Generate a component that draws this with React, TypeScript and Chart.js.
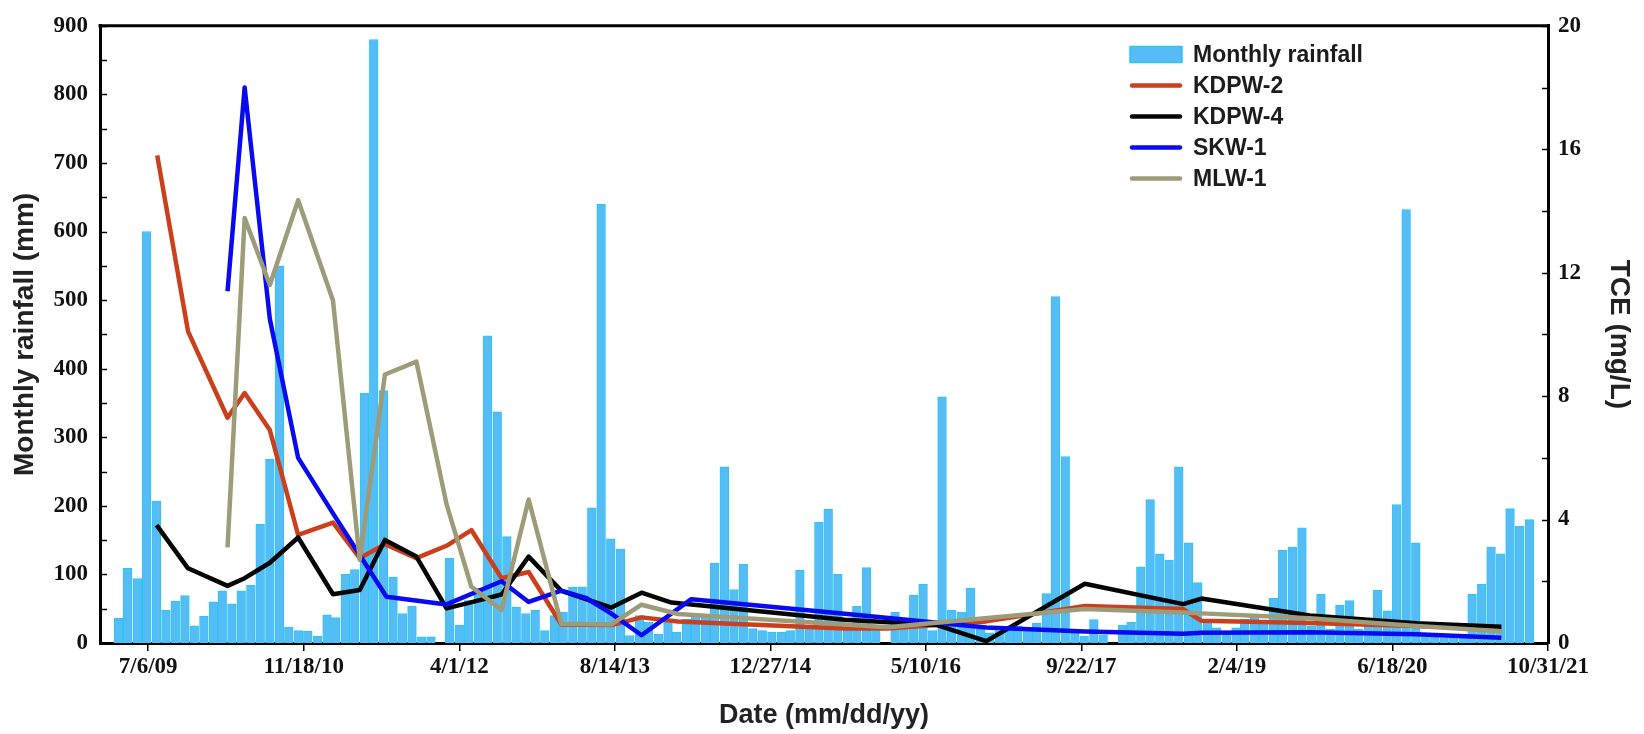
import { useEffect, useRef } from 'react';
import { Chart, registerables } from 'chart.js';

Chart.register(...registerables);

// ---------- DATA ----------
// Monthly rainfall (mm), one value per month starting April 2009 (through Sep 2021)
const rainStartYear = 2009;
const rainStartMonth = 4;
const rainfall = [
  // 2009 Apr-Dec
  36, 109, 94, 600, 207, 48, 61, 69, 25,
  // 2010
  39, 60, 76, 57, 76, 84, 173, 268, 550, 23, 18, 17,
  // 2011
  10, 41, 37, 100, 107, 364, 880, 368, 96, 43, 54, 9,
  // 2012
  9, 0, 124, 26, 62, 80, 448, 337, 155, 52, 43, 48,
  // 2013
  18, 40, 45, 81, 82, 197, 640, 152, 137, 11, 40, 30,
  // 2014
  13, 33, 16, 35, 40, 38, 116, 257, 78, 115, 21, 18,
  // 2015
  16, 16, 18, 106, 22, 176, 195, 100, 22, 54, 110, 18,
  // 2016
  0, 45, 25, 70, 86, 18, 359, 48, 45, 80, 20, 15,
  // 2017
  18, 22, 25, 20, 29, 72, 505, 272, 15, 10, 34, 12,
  // 2018
  0, 26, 30, 111, 209, 130, 121, 257, 146, 88, 30, 22,
  // 2019
  15, 22, 35, 42, 30, 65, 135, 140, 168, 25, 71, 20,
  // 2020
  55, 62, 20, 25, 77, 47, 202, 632, 146, 12, 10, 8,
  // 2021 Jan-Sep
  10, 12, 71, 86, 140, 130, 196, 170, 180,
];

// TCE (mg/L) sampling dates and values
const kdpw2Dates = [
  '2009-08-04', '2009-11-11', '2010-03-18', '2010-05-12', '2010-08-01', '2010-10-31',
  '2011-02-20', '2011-05-17', '2011-08-06', '2011-11-15', '2012-02-20', '2012-05-10',
  '2012-08-15', '2012-11-10', '2013-02-23', '2013-08-03', '2013-11-08', '2014-03-05',
  '2015-08-23', '2016-01-08', '2016-11-20', '2017-10-03', '2018-08-15', '2018-10-13',
  '2019-09-26', '2020-09-03', '2021-06-03',
];
const kdpw2 = [
  15.8, 10.1, 7.3, 8.1, 6.9, 3.5,
  3.9, 2.75, 3.2, 2.75, 3.15, 3.66,
  2.1, 2.3, 0.6, 0.58, 0.83, 0.7,
  0.47, 0.47, 0.7, 1.2, 1.1, 0.72,
  0.65, 0.55, 0.45,
];

const kdpw4Dates = [
  '2009-08-02', '2009-11-11', '2010-03-18', '2010-05-12', '2010-08-01', '2010-10-31',
  '2011-02-20', '2011-05-17', '2011-08-06', '2011-11-15', '2012-02-20', '2012-05-21',
  '2012-08-15', '2012-11-10', '2013-02-23', '2013-08-03', '2013-11-08', '2014-02-12',
  '2015-08-23', '2016-06-15', '2016-11-20', '2017-10-03', '2018-08-15', '2018-10-13',
  '2019-09-26', '2020-09-03', '2021-06-03',
];
const kdpw4 = [
  3.82, 2.42, 1.85, 2.1, 2.6, 3.42,
  1.58, 1.72, 3.34, 2.8, 1.12, 1.35,
  1.57, 2.8, 1.69, 1.15, 1.63, 1.31,
  0.75, 0.58, 0.06, 1.92, 1.26, 1.44,
  0.89, 0.64, 0.53,
];

const skw1Dates = [
  '2010-03-18', '2010-05-12', '2010-08-01', '2010-10-31', '2011-02-20', '2011-08-11',
  '2012-02-20', '2012-08-15', '2012-11-10', '2013-02-23', '2013-05-15', '2013-08-03',
  '2013-11-08', '2014-04-17', '2015-08-23', '2016-11-20', '2017-10-03', '2018-08-15',
  '2018-10-13', '2019-09-26', '2020-09-03', '2021-06-03',
];
const skw1 = [
  11.4, 18.0, 10.5, 6.0, 4.2, 1.5,
  1.25, 2.0, 1.33, 1.7, 1.45, 0.95,
  0.25, 1.42, 0.95, 0.5, 0.37, 0.3,
  0.33, 0.35, 0.28, 0.17,
];

const mlw1Dates = [
  '2010-03-18', '2010-05-12', '2010-08-01', '2010-10-31', '2011-02-20', '2011-05-17',
  '2011-08-06', '2011-11-15', '2012-02-20', '2012-05-10', '2012-08-15', '2012-11-10',
  '2013-02-23', '2013-08-03', '2013-11-08', '2014-03-05', '2015-08-23', '2016-01-08',
  '2017-10-03', '2018-08-15', '2018-10-13', '2019-09-26', '2020-09-03', '2021-06-03',
];
const mlw1 = [
  3.1, 13.77, 11.6, 14.35, 11.1, 2.7,
  8.7, 9.12, 4.5, 1.82, 1.07, 4.65,
  0.62, 0.6, 1.24, 0.94, 0.6, 0.51,
  1.1, 0.99, 0.96, 0.8, 0.55, 0.38,
];

// x-axis range and tick labels
const xMinDate = '2009-02-01';
const xMaxDate = '2021-10-31';
const tickDates = [
  '2009-07-06', '2010-11-18', '2012-04-01', '2013-08-14', '2014-12-27',
  '2016-05-10', '2017-09-22', '2019-02-04', '2020-06-18', '2021-10-31',
];
const tickLabels = [
  '7/6/09', '11/18/10', '4/1/12', '8/14/13', '12/27/14',
  '5/10/16', '9/22/17', '2/4/19', '6/18/20', '10/31/21',
];

// ---------- HELPERS ----------
const day = (s: string) => {
  const [y, m, d] = s.split('-').map(Number);
  return Date.UTC(y, m - 1, d) / 86400000;
};
const monthDay = (i: number) => Date.UTC(rainStartYear, rainStartMonth - 1 + i, 1) / 86400000;
const pts = (dates: string[], vals: number[]) => dates.map((d, i) => ({ x: day(d), y: vals[i] }));

const BAR_FILL = '#56bcf5';
const BAR_EDGE = '#2ac6f2';
const tickFont = { family: '"Liberation Serif", "Times New Roman", serif', size: 23, weight: 'bold' as const };
const titleFont = { family: '"Liberation Sans", Arial, sans-serif', size: 28, weight: 'bold' as const };

const framePlugin = {
  id: 'frameAndLegend',
  afterDraw(chart: any) {
    const { ctx, chartArea: a, scales } = chart;
    ctx.save();
    ctx.strokeStyle = '#000';
    ctx.lineWidth = 3;
    ctx.beginPath();
    ctx.moveTo(a.left - 1.5, a.top);
    ctx.lineTo(a.right + 1.5, a.top);
    ctx.stroke();

    // inward tick marks on both y axes
    ctx.lineWidth = 1.5;
    const yl = scales.y;
    for (let v = yl.min; v <= yl.max; v += 50) {
      const p = Math.round(yl.getPixelForValue(v)) + 0.5;
      ctx.beginPath();
      ctx.moveTo(a.left, p);
      ctx.lineTo(a.left + 7, p);
      ctx.stroke();
    }
    const yr = scales.y1;
    for (let v = yr.min; v <= yr.max; v += 2) {
      const p = Math.round(yr.getPixelForValue(v)) + 0.5;
      ctx.beginPath();
      ctx.moveTo(a.right, p);
      ctx.lineTo(a.right - 6, p);
      ctx.stroke();
    }

    // legend
    const lx = a.right - 418;
    const ly = a.top + 28.7;
    const gap = 31;
    ctx.font = 'bold 23px "Liberation Sans", Arial, sans-serif';
    ctx.textBaseline = 'middle';
    ctx.textAlign = 'left';
    chart.data.datasets.forEach((ds: any, i: number) => {
      const cy = ly + i * gap;
      if (ds.type === 'line') {
        ctx.strokeStyle = ds.borderColor;
        ctx.lineWidth = 4.5;
        ctx.lineCap = 'round';
        ctx.beginPath();
        ctx.moveTo(lx + 2, cy);
        ctx.lineTo(lx + 50, cy);
        ctx.stroke();
      } else {
        ctx.fillStyle = ds.backgroundColor;
        ctx.fillRect(lx, cy - 8, 52, 16);
        ctx.strokeStyle = ds.borderColor;
        ctx.lineWidth = 1.5;
        ctx.strokeRect(lx, cy - 8, 52, 16);
      }
      ctx.fillStyle = '#1c1c1c';
      ctx.fillText(ds.label, lx + 63, cy + 1);
    });
    ctx.restore();
  },
};

export default function App() {
  const ref = useRef<HTMLCanvasElement>(null);

  useEffect(() => {
    const canvas = ref.current;
    if (!canvas) return;
    const lineDs = (label: string, dates: string[], vals: number[], color: string, order: number) => ({
      type: 'line' as const,
      label,
      data: pts(dates, vals),
      borderColor: color,
      backgroundColor: color,
      borderWidth: 4.5,
      pointRadius: 0,
      tension: 0,
      fill: false,
      borderJoinStyle: 'round' as const,
      yAxisID: 'y1',
      order,
    });

    const chart = new Chart(canvas, {
      type: 'bar',
      data: {
        datasets: [
          {
            type: 'bar' as const,
            label: 'Monthly rainfall',
            data: rainfall.map((v, i) => ({ x: monthDay(i), y: v })),
            backgroundColor: BAR_FILL,
            borderColor: BAR_EDGE,
            borderWidth: 1,
            barPercentage: 1,
            categoryPercentage: 1,
            yAxisID: 'y',
            order: 5,
          } as any,
          lineDs('KDPW-2', kdpw2Dates, kdpw2, '#cc3f1c', 4),
          lineDs('KDPW-4', kdpw4Dates, kdpw4, '#050505', 3),
          lineDs('SKW-1', skw1Dates, skw1, '#0a0af0', 2),
          lineDs('MLW-1', mlw1Dates, mlw1, '#9d9b78', 1),
        ],
      },
      options: {
        responsive: false,
        animation: false,
        devicePixelRatio: 1,
        events: [],
        layout: { padding: { left: 0, right: 0, top: 17, bottom: 0 } },
        plugins: { legend: { display: false }, tooltip: { enabled: false } },
        scales: {
          x: {
            type: 'linear',
            min: day(xMinDate),
            max: day(xMaxDate),
            offset: false,
            z: 1,
            afterBuildTicks: (s: any) => {
              s.ticks = tickDates.map((d) => ({ value: day(d) }));
            },
            afterFit: (s: any) => {
              s.height = 91;
            },
            grid: {
              display: true,
              drawOnChartArea: false,
              drawTicks: true,
              tickLength: 8,
              color: '#000',
              lineWidth: 1.5,
              offset: false,
            },
            border: { display: true, color: '#000', width: 3 },
            ticks: {
              autoSkip: false,
              maxRotation: 0,
              minRotation: 0,
              padding: 2,
              color: '#111',
              font: tickFont,
              callback: (_v: any, i: number) => tickLabels[i],
            },
            title: {
              display: true,
              text: 'Date (mm/dd/yy)',
              color: '#222',
              font: { ...titleFont, size: 27 },
              padding: { top: 0, bottom: 2 },
            },
          },
          y: {
            type: 'linear',
            position: 'left',
            min: 0,
            max: 900,
            afterFit: (s: any) => {
              s.width = 100;
            },
            grid: { display: false, drawTicks: false },
            border: { display: true, color: '#000', width: 3 },
            ticks: { stepSize: 100, padding: 12, color: '#111', font: tickFont },
            title: {
              display: true,
              text: 'Monthly rainfall (mm)',
              color: '#222',
              font: titleFont,
              padding: { top: 8, bottom: 0 },
            },
          },
          y1: {
            type: 'linear',
            position: 'right',
            min: 0,
            max: 20,
            afterFit: (s: any) => {
              s.width = 96;
            },
            grid: { display: false, drawTicks: false },
            border: { display: true, color: '#000', width: 3 },
            ticks: { stepSize: 4, padding: 10, color: '#111', font: tickFont },
            title: {
              display: true,
              text: 'TCE (mg/L)',
              color: '#222',
              font: titleFont,
              padding: { top: 8, bottom: 0 },
            },
          },
        },
      } as any,
      plugins: [framePlugin],
    });
    return () => chart.destroy();
  }, []);

  return (
    <div style={{ position: 'fixed', left: 0, top: 0, width: 1644, height: 734, background: '#fff' }}>
      <canvas ref={ref} width={1644} height={734} style={{ display: 'block', width: 1644, height: 734 }} />
    </div>
  );
}
